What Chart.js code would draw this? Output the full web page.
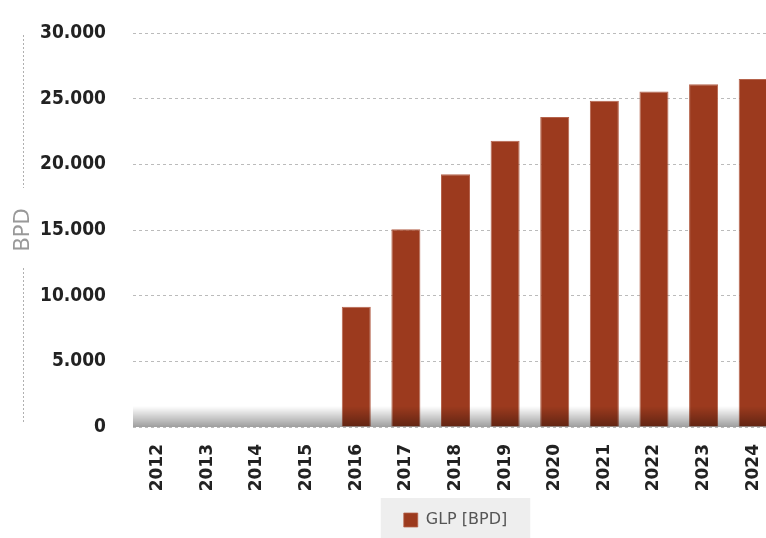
<!DOCTYPE html>
<html>
<head>
<meta charset="utf-8">
<script src="https://cdn.jsdelivr.net/npm/chart.js@4"></script>
<style>
  html, body { margin: 0; padding: 0; background: #fff; overflow: hidden; }
  #frame { width: 766px; height: 538px; overflow: hidden; }
  canvas { display: block; }
</style>
</head>
<body>
<div id="frame"><canvas id="glpChart" width="778" height="538"></canvas></div>
<script>
/* ---- Data ---- */
const years = ["2012","2013","2014","2015","2016","2017","2018","2019","2020","2021","2022","2023","2024"];
const glpBpd = [0, 0, 0, 0, 9150, 15050, 19250, 21800, 23600, 24850, 25550, 26100, 26500];
const yTicks = [0, 5000, 10000, 15000, 20000, 25000, 30000];

const FONT = "'DejaVu Sans', sans-serif";

/* ---- condensed text for the whole canvas ---- */
const condensePlugin = {
  id: "condense",
  beforeUpdate(chart) { chart.ctx.fontStretch = "condensed"; },
  beforeLayout(chart) { chart.ctx.fontStretch = "condensed"; },
  beforeDraw(chart) { chart.ctx.fontStretch = "condensed"; },
};

/* ---- Decorations: bottom shade, dotted title line, legend panel ---- */
const decorPlugin = {
  id: "decor",
  beforeDraw(chart) {
    const ctx = chart.ctx;
    const lg = chart.legend;
    if (lg && lg.legendHitBoxes && lg.legendHitBoxes.length) {
      const hb = lg.legendHitBoxes[0];
      const cy = hb.top + hb.height / 2;
      ctx.save();
      ctx.fillStyle = "#eeeeee";
      ctx.fillRect(hb.left - 23, cy - 22, hb.width + 46, chart.height);
      ctx.restore();
    }
    // dotted vertical line broken by the axis title
    const ca = chart.chartArea;
    ctx.save();
    ctx.strokeStyle = "#b0b0b0";
    ctx.lineWidth = 1;
    ctx.setLineDash([2, 2]);
    ctx.beginPath();
    ctx.moveTo(23.5, ca.top + 2);
    ctx.lineTo(23.5, 188);
    ctx.moveTo(23.5, 268);
    ctx.lineTo(23.5, ca.bottom - 3);
    ctx.stroke();
    ctx.restore();
  },
  afterDatasetsDraw(chart) {
    const ctx = chart.ctx;
    const ca = chart.chartArea;
    const g = ctx.createLinearGradient(0, ca.bottom - 21, 0, ca.bottom);
    g.addColorStop(0, "rgba(0,0,0,0)");
    g.addColorStop(0.15, "rgba(0,0,0,0.05)");
    g.addColorStop(1, "rgba(0,0,0,0.38)");
    ctx.save();
    ctx.fillStyle = g;
    ctx.fillRect(ca.left, ca.bottom - 21, ca.right - ca.left, 21);
    ctx.restore();
  }
};

new Chart(document.getElementById("glpChart"), {
  type: "bar",
  data: {
    labels: years,
    datasets: [{
      label: "GLP [BPD]",
      data: glpBpd,
      backgroundColor: "#9c3a1e",
      borderColor: "#b5634c",
      borderWidth: { top: 1, left: 1, right: 1, bottom: 0 },
      barPercentage: 0.585,
      categoryPercentage: 1,
    }],
  },
  options: {
    responsive: false,
    animation: false,
    // canvas is a bit wider than the frame: last bar is cut like in the source
    layout: { padding: { top: 33, right: 0, left: 0, bottom: 0 } },
    plugins: {
      legend: {
        position: "bottom",
        fullSize: false,
        labels: {
          boxWidth: 14,
          boxHeight: 14,
          padding: 5,
          color: "#555",
          font: { family: FONT, size: 16 },
        },
      },
      tooltip: { enabled: false },
    },
    scales: {
      x: {
        afterFit: (scale) => {
          scale.height = 80;
          scale.paddingLeft = 0;
          scale.paddingRight = 0;
        },
        grid: { display: false },
        border: { display: false },
        ticks: {
          color: "#222",
          font: { family: FONT, size: 17, weight: "bold" },
          maxRotation: 90,
          minRotation: 90,
          padding: 9,
        },
      },
      y: {
        min: 0,
        max: 30000,
        z: 1,
        afterFit: (scale) => {
          scale.width = 133;
          scale.paddingTop = 0;
        },
        afterBuildTicks: (scale) => { scale.ticks = yTicks.map((v) => ({ value: v })); },
        grid: {
          color: "rgba(170,170,170,0.8)",
          drawTicks: false,
          lineWidth: 1,
        },
        border: { display: false, dash: [3, 3] },
        ticks: {
          color: "#222",
          padding: 27,
          font: { family: FONT, size: 19, weight: "bold" },
          callback: (v) => v.toLocaleString("de-DE"),
        },
        title: {
          display: true,
          text: "BPD",
          color: "#999",
          font: { family: FONT, size: 21 },
          padding: { top: 11, bottom: 0 },
        },
      },
    },
  },
  plugins: [condensePlugin, decorPlugin],
});
</script>
</body>
</html>
